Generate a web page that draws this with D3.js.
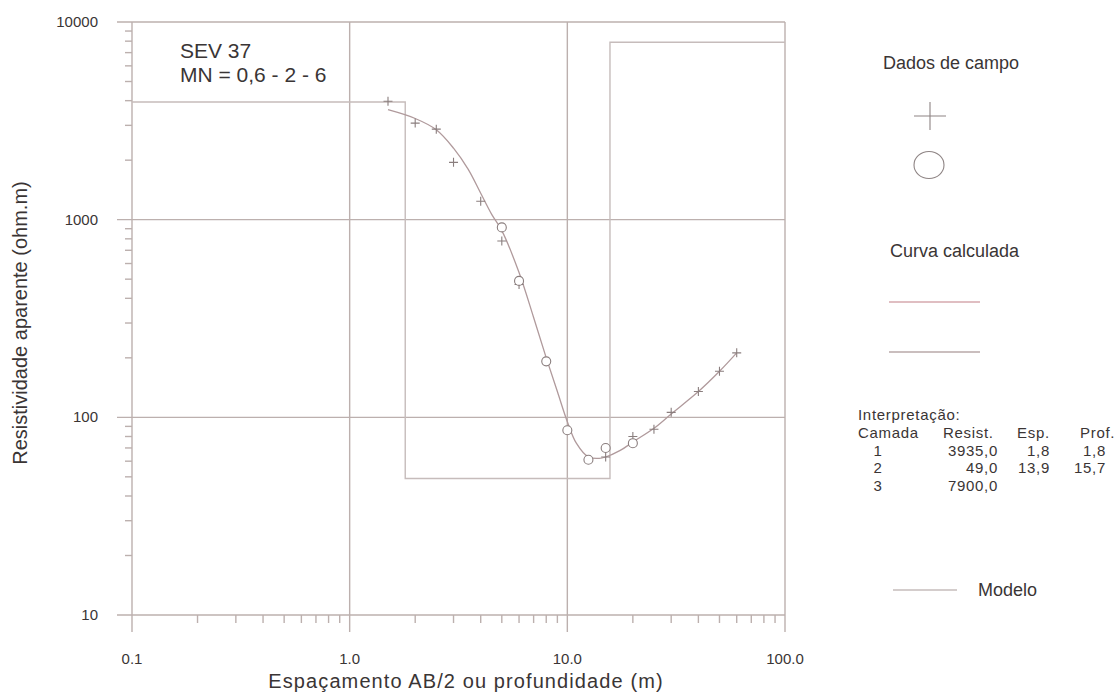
<!DOCTYPE html>
<html>
<head>
<meta charset="utf-8">
<script src="https://cdn.jsdelivr.net/npm/d3@7"></script>
<style>
body { margin: 0; background: #fff; }
text { font-family: "Liberation Sans", Arial, sans-serif; fill: #3a3535; }
</style>
</head>
<body>
<div id="chart"></div>
<script>
// field data (cross = one MN, circle = other MN)
var crossX = [1.5, 2, 2.5, 3, 4, 5, 6, 15, 20, 25, 30, 40, 50, 60];
var crossY = [3970, 3080, 2870, 1950, 1240, 780, 470, 63, 80, 87, 106, 135, 171, 212];
var circleX = [5, 6, 8, 10, 12.5, 15, 20];
var circleY = [914, 490, 192, 86, 61, 70, 74];

// calculated curve
var curveX = [1.5, 2, 2.5, 3, 3.5, 4, 4.5, 5, 6, 7, 8, 9, 10, 11, 12.5, 14, 15, 17.5, 20, 25, 30, 40, 50, 60];
var curveY = [3600, 3250, 2850, 2300, 1800, 1360, 1060, 880, 540, 320, 200, 135, 95, 74, 63, 62, 63, 68, 75, 88, 104, 135, 171, 212];

// interpreted model
var layers = ["1", "2", "3"];
var resist = [3935.0, 49.0, 7900.0];
var esp = [1.8, 13.9];
var prof = [1.8, 15.7];

var xTicks = [0.1, 1, 10, 100];
var xTickLabels = ["0.1", "1.0", "10.0", "100.0"];
var yTicks = [10, 100, 1000, 10000];

var lineCol = "#bcb0ae";

var svg = d3.select("#chart").append("svg")
	.attr("width", 1119)
	.attr("height", 693);

var x = d3.scaleLog().domain([0.1, 100]).range([132, 785]);
var y = d3.scaleLog().domain([10, 10000]).range([615, 22]);

var minorX = [], minorY = [];
[0.1, 1, 10].forEach(function(d) {
	for (var k = 2; k <= 9; k++) minorX.push(d * k);
});
[10, 100, 1000].forEach(function(d) {
	for (var k = 2; k <= 9; k++) minorY.push(d * k);
});

var grid = svg.append("g").attr("stroke", lineCol).attr("stroke-width", 1.4);

// horizontal grid / frame lines
grid.selectAll(".hg").data(yTicks).enter().append("line")
	.attr("x1", 117).attr("x2", x(100))
	.attr("y1", function(d) { return y(d); })
	.attr("y2", function(d) { return y(d); });

// vertical grid / frame lines
grid.selectAll(".vg").data(xTicks.slice(1)).enter().append("line")
	.attr("x1", function(d) { return x(d); })
	.attr("x2", function(d) { return x(d); })
	.attr("y1", y(10000)).attr("y2", 632);

grid.append("line")
	.attr("x1", x(0.1)).attr("x2", x(0.1))
	.attr("y1", y(10000)).attr("y2", 632);

// minor ticks
grid.selectAll(".mx").data(minorX).enter().append("line")
	.attr("x1", function(d) { return x(d); })
	.attr("x2", function(d) { return x(d); })
	.attr("y1", y(10)).attr("y2", y(10) + 8);

grid.selectAll(".my").data(minorY).enter().append("line")
	.attr("x1", x(0.1) - 7).attr("x2", x(0.1))
	.attr("y1", function(d) { return y(d); })
	.attr("y2", function(d) { return y(d); });

// tick labels
svg.selectAll(".xl").data(xTicks).enter().append("text")
	.attr("x", function(d) { return x(d); })
	.attr("y", 664)
	.attr("text-anchor", "middle")
	.style("font-size", "15px")
	.text(function(d, i) { return xTickLabels[i]; });

svg.selectAll(".yl").data(yTicks).enter().append("text")
	.attr("x", 98)
	.attr("y", function(d) { return y(d) + 5; })
	.attr("text-anchor", "end")
	.style("font-size", "15px")
	.text(function(d) { return d; });

// axis titles
svg.append("text")
	.attr("x", 466).attr("y", 688)
	.attr("text-anchor", "middle")
	.style("font-size", "20px")
	.style("letter-spacing", "1.1px")
	.text("Espaçamento AB/2 ou profundidade (m)");

svg.append("text")
	.attr("transform", "translate(27,323) rotate(-90)")
	.attr("text-anchor", "middle")
	.style("font-size", "20px")
	.text("Resistividade aparente (ohm.m)");

// model step line
var modelPts = [[0.1, resist[0]], [prof[0], resist[1]], [prof[1], resist[2]], [100, resist[2]]];
svg.append("path")
	.datum(modelPts)
	.attr("fill", "none")
	.attr("stroke", "#c6bcbb")
	.attr("stroke-width", 1.4)
	.attr("d", d3.line()
		.x(function(d) { return x(d[0]); })
		.y(function(d) { return y(d[1]); })
		.curve(d3.curveStepAfter));

// calculated curve
svg.append("path")
	.datum(d3.zip(curveX, curveY))
	.attr("fill", "none")
	.attr("stroke", "#b09a9c")
	.attr("stroke-width", 1.3)
	.attr("d", d3.line()
		.x(function(d) { return x(d[0]); })
		.y(function(d) { return y(d[1]); })
		.curve(d3.curveCatmullRom.alpha(0.5)));

var markCol = "#8a7e7e";

// crosses
svg.selectAll(".cr").data(d3.zip(crossX, crossY)).enter().append("path")
	.attr("transform", function(d) { return "translate(" + x(d[0]) + "," + y(d[1]) + ")"; })
	.attr("d", "M-4.5,0H4.5M0,-4.5V4.5")
	.attr("stroke", markCol)
	.attr("stroke-width", 1.1)
	.attr("fill", "none");

// circles
svg.selectAll(".ci").data(d3.zip(circleX, circleY)).enter().append("circle")
	.attr("cx", function(d) { return x(d[0]); })
	.attr("cy", function(d) { return y(d[1]); })
	.attr("r", 4.5)
	.attr("stroke", markCol)
	.attr("stroke-width", 1.1)
	.attr("fill", "#fff");

// label
svg.append("text").attr("x", 180).attr("y", 58)
	.style("font-size", "21px").text("SEV 37");
svg.append("text").attr("x", 180).attr("y", 82)
	.style("font-size", "21px").text("MN = 0,6 - 2 - 6");

// legend
var leg = svg.append("g");
leg.append("text").attr("x", 883).attr("y", 69).style("font-size", "18px").text("Dados de campo");
leg.append("path")
	.attr("d", "M914,116H946M930,102V130")
	.attr("stroke", "#8e8484").attr("stroke-width", 1.1);
leg.append("ellipse")
	.attr("cx", 929).attr("cy", 165).attr("rx", 15).attr("ry", 13.5)
	.attr("fill", "none").attr("stroke", "#8e8484").attr("stroke-width", 1.1);

leg.append("text").attr("x", 890).attr("y", 257).style("font-size", "18px").text("Curva calculada");
leg.append("line").attr("x1", 889).attr("x2", 980).attr("y1", 302).attr("y2", 302)
	.attr("stroke", "#d6a8ae").attr("stroke-width", 1.3);
leg.append("line").attr("x1", 889).attr("x2", 980).attr("y1", 352).attr("y2", 352)
	.attr("stroke", "#b8a8a8").attr("stroke-width", 1.3);

// interpretation table
var tb = leg.append("g").style("font-size", "15px").style("letter-spacing", "0.7px");
tb.append("text").attr("x", 858).attr("y", 420).text("Interpretação:");
tb.append("text").attr("x", 858).attr("y", 438).text("Camada");
tb.append("text").attr("x", 943).attr("y", 438).text("Resist.");
tb.append("text").attr("x", 1017).attr("y", 438).text("Esp.");
tb.append("text").attr("x", 1080).attr("y", 438).text("Prof.");

var rowY = function(i) { return 455.5 + i * 17.5; };
tb.selectAll(".ly").data(layers).enter().append("text")
	.attr("x", 878).attr("y", function(d, i) { return rowY(i); })
	.attr("text-anchor", "middle")
	.text(function(d) { return d; });
tb.selectAll(".rs").data(resist).enter().append("text")
	.attr("x", 998).attr("y", function(d, i) { return rowY(i); })
	.attr("text-anchor", "end")
	.text(function(d) { return d.toFixed(1).replace(".", ","); });
tb.selectAll(".es").data(esp).enter().append("text")
	.attr("x", 1050).attr("y", function(d, i) { return rowY(i); })
	.attr("text-anchor", "end")
	.text(function(d) { return d.toFixed(1).replace(".", ","); });
tb.selectAll(".pr").data(prof).enter().append("text")
	.attr("x", 1106).attr("y", function(d, i) { return rowY(i); })
	.attr("text-anchor", "end")
	.text(function(d) { return d.toFixed(1).replace(".", ","); });

leg.append("line").attr("x1", 893).attr("x2", 957).attr("y1", 590).attr("y2", 590)
	.attr("stroke", "#c6bcbb").attr("stroke-width", 1.3);
leg.append("text").attr("x", 978).attr("y", 596).style("font-size", "18px").text("Modelo");
</script>
</body>
</html>
